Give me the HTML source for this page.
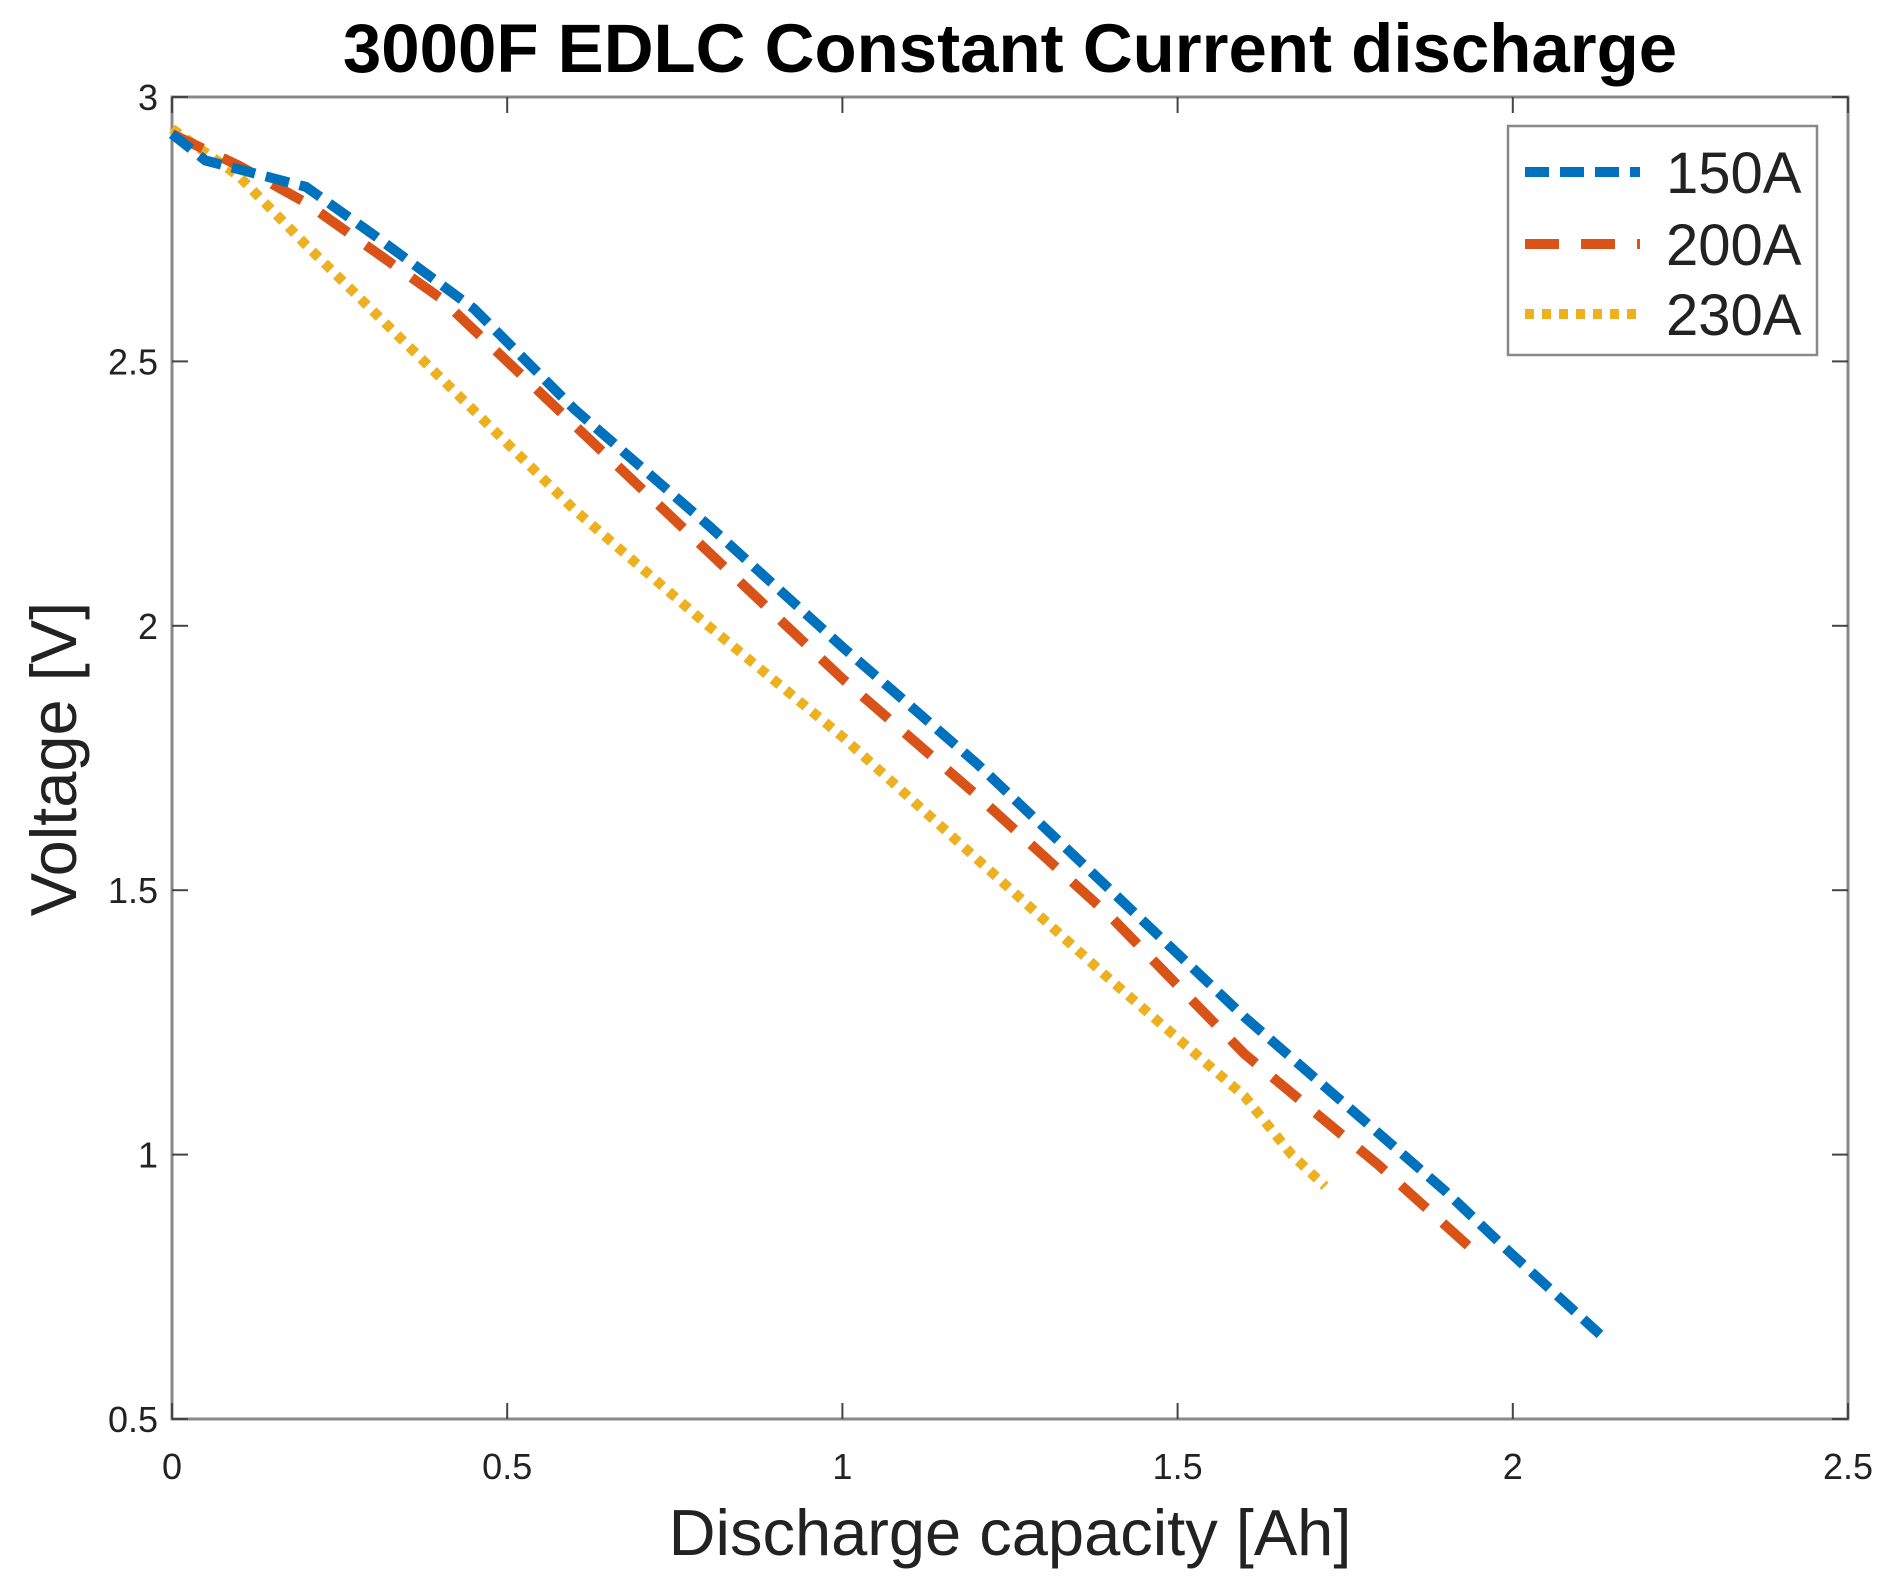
<!DOCTYPE html>
<html><head><meta charset="utf-8"><style>
html,body{margin:0;padding:0;background:#fff}
svg{display:block;font-family:"Liberation Sans",sans-serif}
</style></head><body>
<svg id="chart" width="1889" height="1588">
<text x="1010" y="72" text-anchor="middle" font-size="69" font-weight="bold" fill="#000">3000F EDLC Constant Current discharge</text>
<g id="axes"></g>
<g id="series"></g>
<text x="1010" y="1555" text-anchor="middle" font-size="65" fill="#222">Discharge capacity [Ah]</text>
<text transform="translate(76,759) rotate(-90)" text-anchor="middle" font-size="65" fill="#222">Voltage [V]</text>
<g>
<rect x="1508" y="126" width="309" height="229" fill="#fff" stroke="#888" stroke-width="2.5"/>
<line x1="1525" y1="172" x2="1640" y2="172" stroke="#0072BD" stroke-width="10" stroke-dasharray="24,11"/>
<text x="1666" y="193" font-size="58" fill="#222">150A</text>
<line x1="1525" y1="244" x2="1640" y2="244" stroke="#D95319" stroke-width="10" stroke-dasharray="34,22"/>
<text x="1666" y="265" font-size="58" fill="#222">200A</text>
<line x1="1525" y1="314" x2="1640" y2="314" stroke="#EDB120" stroke-width="10" stroke-dasharray="9,8"/>
<text x="1666" y="335" font-size="58" fill="#222">230A</text>
</g>
</svg>
<script>
const xTicks=[0,0.5,1,1.5,2,2.5];
const yTicks=[0.5,1,1.5,2,2.5,3];
const xTickLabels=["0","0.5","1","1.5","2","2.5"];
const yTickLabels=["0.5","1","1.5","2","2.5","3"];
const x150=[0,0.05,0.2,0.3,0.45,0.6,0.8,1.0,1.2,1.4,1.6,1.8,1.9,2.0,2.13];
const y150=[2.93,2.88,2.83,2.74,2.6,2.41,2.19,1.96,1.74,1.5,1.26,1.04,0.93,0.81,0.66];
const x200=[0,0.1,0.2,0.4,0.6,0.8,1.0,1.2,1.4,1.6,1.8,1.94];
const y200=[2.93,2.87,2.8,2.62,2.38,2.14,1.9,1.68,1.45,1.19,0.98,0.82];
const x230=[0,0.1,0.2,0.4,0.6,0.8,1.0,1.2,1.4,1.6,1.67,1.72];
const y230=[2.94,2.85,2.72,2.47,2.22,2.0,1.79,1.56,1.33,1.11,1.0,0.94];
const L=172,R=1848,T=97,B=1419;
const sx=v=>L+(v-0)/(2.5-0)*(R-L);
const sy=v=>B-(v-0.5)/(3-0.5)*(B-T);
const NS="http://www.w3.org/2000/svg";
const axes=document.getElementById('axes'), ser=document.getElementById('series');
function mk(tag,attrs,parent){const e=document.createElementNS(NS,tag);for(const k in attrs)e.setAttribute(k,attrs[k]);parent.appendChild(e);return e;}
const box=mk('rect',{x:L,y:T,width:R-L,height:B-T,fill:'none',stroke:'#888','stroke-width':3},axes);


xTicks.forEach((v,i)=>{
  const t1=mk('line',{x1:sx(v),x2:sx(v),y1:B,y2:B-16,stroke:'#444','stroke-width':2},axes);
  
  
  const t2=mk('line',{x1:sx(v),x2:sx(v),y1:T,y2:T+16,stroke:'#444','stroke-width':2},axes);
  
  
  const tx=mk('text',{x:sx(v),y:B+60,'text-anchor':'middle','font-size':36,fill:'#222'},axes);
  tx.textContent=xTickLabels[i];
  
  
});
yTicks.forEach((v,i)=>{
  const t1=mk('line',{x1:L,x2:L+16,y1:sy(v),y2:sy(v),stroke:'#444','stroke-width':2},axes);
  
  
  const t2=mk('line',{x1:R,x2:R-16,y1:sy(v),y2:sy(v),stroke:'#444','stroke-width':2},axes);
  
  
  const tx=mk('text',{x:L-14,y:sy(v)+13,'text-anchor':'end','font-size':36,fill:'#222'},axes);
  tx.textContent=yTickLabels[i];
  
  
});
function line(xs,ys,color,dash,name){
  const d=xs.map((v,i)=>(i?'L':'M')+sx(v).toFixed(1)+','+sy(ys[i]).toFixed(1)).join(' ');
  const p=mk('path',{d:d,fill:'none',stroke:color,'stroke-width':10,'stroke-dasharray':dash},ser);
  
  
}
line(x230,y230,'#EDB120','9,8','series-230a');
line(x200,y200,'#D95319','34,22','series-200a');
line(x150,y150,'#0072BD','24,11','series-150a');
</script>
</body></html>
